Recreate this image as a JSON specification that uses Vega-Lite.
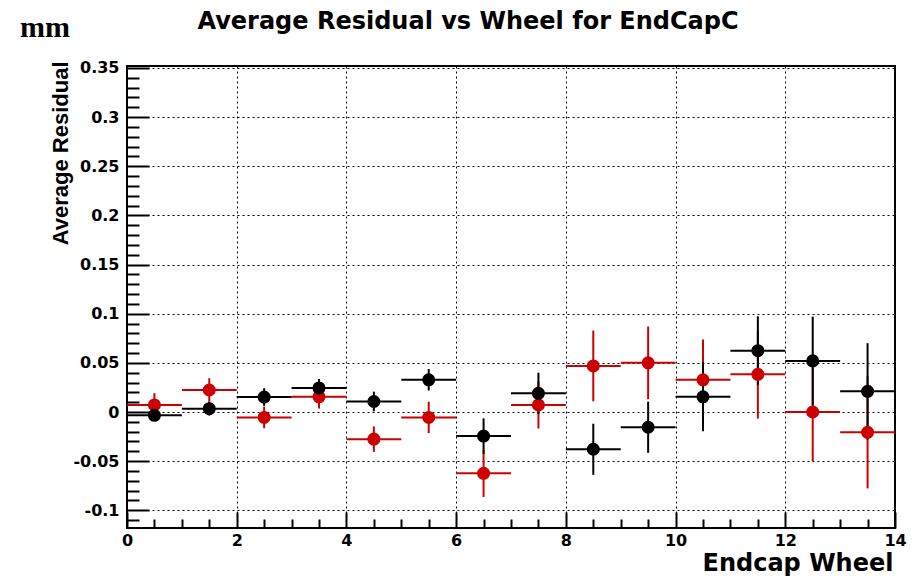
{
  "$schema": "https://vega.github.io/schema/vega-lite/v6.json",
  "width": 768,
  "height": 462,
  "autosize": "none",
  "padding": {"left": 127, "top": 66, "right": 21, "bottom": 48},
  "background": "white",
  "title": {
    "text": "Average Residual vs Wheel for EndCapC",
    "font": "DejaVu Sans",
    "fontWeight": "bold",
    "fontSize": 24,
    "color": "black",
    "anchor": "middle",
    "baseline": "alphabetic",
    "offset": -40,
    "dx": -43
  },
  "config": {
    "view": {"stroke": "black", "strokeWidth": 2},
    "axis": {
      "labelFont": "DejaVu Sans",
      "labelFontWeight": "bold",
      "labelFontSize": 16,
      "labelColor": "black",
      "tickColor": "black",
      "domain": false
    }
  },
  "datasets": {
    "res": [
      {"wheel": 0.5, "series": "Red", "value": 0.0072, "err": 0.012, "xerr": 0.5},
      {"wheel": 1.5, "series": "Red", "value": 0.0224, "err": 0.012, "xerr": 0.5},
      {"wheel": 2.5, "series": "Red", "value": -0.0055, "err": 0.011, "xerr": 0.5},
      {"wheel": 3.5, "series": "Red", "value": 0.0155, "err": 0.012, "xerr": 0.5},
      {"wheel": 4.5, "series": "Red", "value": -0.0276, "err": 0.013, "xerr": 0.5},
      {"wheel": 5.5, "series": "Red", "value": -0.0055, "err": 0.016, "xerr": 0.5},
      {"wheel": 6.5, "series": "Red", "value": -0.0624, "err": 0.024, "xerr": 0.5},
      {"wheel": 7.5, "series": "Red", "value": 0.0072, "err": 0.024, "xerr": 0.5},
      {"wheel": 8.5, "series": "Red", "value": 0.0469, "err": 0.036, "xerr": 0.5},
      {"wheel": 9.5, "series": "Red", "value": 0.05, "err": 0.037, "xerr": 0.5},
      {"wheel": 10.5, "series": "Red", "value": 0.0328, "err": 0.041, "xerr": 0.5},
      {"wheel": 11.5, "series": "Red", "value": 0.0383, "err": 0.045, "xerr": 0.5},
      {"wheel": 12.5, "series": "Red", "value": 0.0, "err": 0.05, "xerr": 0.5},
      {"wheel": 13.5, "series": "Red", "value": -0.0207, "err": 0.057, "xerr": 0.5},
      {"wheel": 0.5, "series": "Black", "value": -0.0034, "err": 0.005, "xerr": 0.5},
      {"wheel": 1.5, "series": "Black", "value": 0.0034, "err": 0.007, "xerr": 0.5},
      {"wheel": 2.5, "series": "Black", "value": 0.0152, "err": 0.009, "xerr": 0.5},
      {"wheel": 3.5, "series": "Black", "value": 0.0245, "err": 0.009, "xerr": 0.5},
      {"wheel": 4.5, "series": "Black", "value": 0.0107, "err": 0.01, "xerr": 0.5},
      {"wheel": 5.5, "series": "Black", "value": 0.0328, "err": 0.011, "xerr": 0.5},
      {"wheel": 6.5, "series": "Black", "value": -0.0245, "err": 0.018, "xerr": 0.5},
      {"wheel": 7.5, "series": "Black", "value": 0.019, "err": 0.021, "xerr": 0.5},
      {"wheel": 8.5, "series": "Black", "value": -0.0379, "err": 0.026, "xerr": 0.5},
      {"wheel": 9.5, "series": "Black", "value": -0.0155, "err": 0.026, "xerr": 0.5},
      {"wheel": 10.5, "series": "Black", "value": 0.0155, "err": 0.035, "xerr": 0.5},
      {"wheel": 11.5, "series": "Black", "value": 0.0624, "err": 0.035, "xerr": 0.5},
      {"wheel": 12.5, "series": "Black", "value": 0.052, "err": 0.045, "xerr": 0.5},
      {"wheel": 13.5, "series": "Black", "value": 0.021, "err": 0.049, "xerr": 0.5}
    ],
    "unit": [{"label": "mm", "ux": -1.95, "uy": 0.3815}]
  },
  "data": {"name": "res"},
  "resolve": {"scale": {"x": "independent", "y": "independent"}, "axis": {"x": "independent", "y": "independent"}},
  "layer": [
    {
      "mark": {"type": "errorbar", "thickness": 2},
      "encoding": {
        "x": {"field": "wheel", "type": "quantitative",
          "scale": {"domain": [0, 14], "nice": false, "zero": false},
          "axis": {"orient": "bottom", "values": [0, 2, 4, 6, 8, 10, 12, 14], "ticks": false, "labelPadding": 4, "labelFlush": false,
            "grid": true, "gridColor": "black", "gridDash": [2, 3], "gridWidth": 1, "gridOpacity": 1,
            "title": "Endcap Wheel", "titleFont": "DejaVu Sans", "titleFontWeight": "bold", "titleFontSize": 24, "titleColor": "black",
            "titleX": 766, "titleY": 42, "titleAlign": "right", "titleBaseline": "alphabetic", "titleAnchor": null}},
        "y": {"field": "value", "type": "quantitative",
          "scale": {"domain": [-0.118, 0.352], "nice": false, "zero": false},
          "axis": {"orient": "left", "values": [-0.1, -0.05, 0, 0.05, 0.1, 0.15, 0.2, 0.25, 0.3, 0.35], "ticks": false, "labelPadding": 8, "labelFlush": false,
            "grid": true, "gridColor": "black", "gridDash": [2, 3], "gridWidth": 1, "gridOpacity": 1,
            "labelExpr": "datum.value",
            "title": "Average Residual", "titleFont": "Liberation Sans", "titleFontWeight": "bold", "titleFontSize": 22, "titleColor": "black",
            "titleAngle": -90, "titleX": -60, "titleY": -5, "titleAlign": "right", "titleBaseline": "alphabetic", "titleAnchor": null}},
        "yError": {"field": "err"},
        "color": {"field": "series", "type": "nominal", "scale": {"domain": ["Red", "Black"], "range": ["#cc0000", "#000000"]}, "legend": null}
      }
    },
    {
      "mark": {"type": "errorbar", "thickness": 2},
      "encoding": {
        "x": {"field": "wheel", "type": "quantitative", "scale": {"domain": [0, 14], "nice": false, "zero": false}, "axis": null},
        "xError": {"field": "xerr"},
        "y": {"field": "value", "type": "quantitative", "scale": {"domain": [-0.118, 0.352], "nice": false, "zero": false}, "axis": null},
        "color": {"field": "series", "type": "nominal", "scale": {"domain": ["Red", "Black"], "range": ["#cc0000", "#000000"]}, "legend": null}
      }
    },
    {
      "mark": {"type": "point", "shape": "circle", "filled": true, "size": 170, "opacity": 1},
      "encoding": {
        "x": {"field": "wheel", "type": "quantitative", "scale": {"domain": [0, 14], "nice": false, "zero": false}, "axis": null},
        "y": {"field": "value", "type": "quantitative", "scale": {"domain": [-0.118, 0.352], "nice": false, "zero": false}, "axis": null},
        "color": {"field": "series", "type": "nominal", "scale": {"domain": ["Red", "Black"], "range": ["#cc0000", "#000000"]}, "legend": null}
      }
    },
    {
      "mark": {"type": "point", "opacity": 0},
      "encoding": {
        "x": {"field": "wheel", "type": "quantitative", "scale": {"domain": [0, 14], "nice": false, "zero": false},
          "axis": {"orient": "bottom", "values": [0, 2, 4, 6, 8, 10, 12, 14], "labels": false, "grid": false, "tickSize": -16, "tickWidth": 2, "title": null}},
        "y": {"field": "value", "type": "quantitative", "scale": {"domain": [-0.118, 0.352], "nice": false, "zero": false},
          "axis": {"orient": "left", "values": [-0.1, -0.05, 0, 0.05, 0.1, 0.15, 0.2, 0.25, 0.3, 0.35], "labels": false, "grid": false, "tickSize": -22, "tickWidth": 2, "title": null}}
      }
    },
    {
      "mark": {"type": "point", "opacity": 0},
      "encoding": {
        "x": {"field": "wheel", "type": "quantitative", "scale": {"domain": [0, 14], "nice": false, "zero": false},
          "axis": {"orient": "bottom", "values": [0.5, 1, 1.5, 2.5, 3, 3.5, 4.5, 5, 5.5, 6.5, 7, 7.5, 8.5, 9, 9.5, 10.5, 11, 11.5, 12.5, 13, 13.5], "labels": false, "grid": false, "tickSize": -9, "tickWidth": 2, "title": null}},
        "y": {"field": "value", "type": "quantitative", "scale": {"domain": [-0.118, 0.352], "nice": false, "zero": false},
          "axis": {"orient": "left", "values": [-0.11, -0.09, -0.08, -0.07, -0.06, -0.04, -0.03, -0.02, -0.01, 0.01, 0.02, 0.03, 0.04, 0.06, 0.07, 0.08, 0.09, 0.11, 0.12, 0.13, 0.14, 0.16, 0.17, 0.18, 0.19, 0.21, 0.22, 0.23, 0.24, 0.26, 0.27, 0.28, 0.29, 0.31, 0.32, 0.33, 0.34], "labels": false, "grid": false, "tickSize": -12, "tickWidth": 2, "title": null}}
      }
    },
    {
      "data": {"name": "unit"},
      "mark": {"type": "text", "font": "Liberation Serif", "fontWeight": "bold", "fontSize": 30, "align": "left", "baseline": "alphabetic", "color": "black"},
      "encoding": {
        "x": {"field": "ux", "type": "quantitative", "scale": {"domain": [0, 14], "nice": false, "zero": false}, "axis": null},
        "y": {"field": "uy", "type": "quantitative", "scale": {"domain": [-0.118, 0.352], "nice": false, "zero": false}, "axis": null},
        "text": {"field": "label"}
      }
    }
  ]
}
